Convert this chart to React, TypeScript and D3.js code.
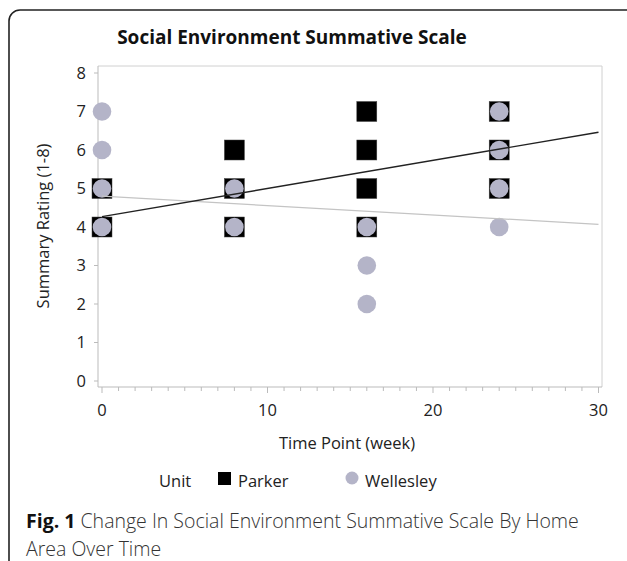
import React from "react";
import * as d3 from "d3";

const parkerX = [0, 0, 8, 8, 8, 16, 16, 16, 16, 24, 24, 24];
const parkerY = [4, 5, 4, 5, 6, 4, 5, 6, 7, 5, 6, 7];
const wellesleyX = [0, 0, 0, 0, 8, 8, 16, 16, 16, 24, 24, 24, 24];
const wellesleyY = [4, 5, 6, 7, 4, 5, 2, 3, 4, 4, 5, 6, 7];
const parkerFitX = [0, 30];
const parkerFitY = [4.27, 6.46];
const wellesleyFitX = [0, 30];
const wellesleyFitY = [4.8, 4.07];
const xTicks = [0, 10, 20, 30];
const xMinorTicks = d3.range(0, 31);
const yTicks = [0, 1, 2, 3, 4, 5, 6, 7, 8];

const FONT = "'Open Sans', 'Noto Sans', sans-serif";
const GRAY = "#b4b4c8";

export default function App() {
  const W = 627, H = 561;
  const x = d3.scaleLinear().domain([0, 30]).range([102, 598.5]);
  const y = d3.scaleLinear().domain([0, 8]).range([381, 73]);
  const frameL = 98, frameR = 602, frameT = 66, frameB = 387;
  const line = d3.line<[number, number]>().x(d => x(d[0])).y(d => y(d[1]));
  const pFit: [number, number][] = parkerFitX.map((v, i) => [v, parkerFitY[i]]);
  const wFit: [number, number][] = wellesleyFitX.map((v, i) => [v, wellesleyFitY[i]]);
  const sq = 20;
  const fs = 16.5;
  return (
    <svg width={W} height={H} style={{ position: "absolute", left: 0, top: 0, background: "#fff" }} fontFamily={FONT}>
      <rect x={9} y={10} width={W + 20} height={H + 20} rx={11} fill="none" stroke="#222" strokeWidth={1.6} />
      <text x={292} y={44} textAnchor="middle" fontSize={19} fontWeight="bold" fill="#111">Social Environment Summative Scale</text>
      {/* frame */}
      <line x1={frameL} x2={frameR} y1={frameT} y2={frameT} stroke="#d0d0d0" />
      <line x1={frameR} x2={frameR} y1={frameT} y2={frameB} stroke="#d0d0d0" />
      <line x1={frameL} x2={frameL} y1={frameT} y2={frameB} stroke="#bbb" />
      <line x1={frameL} x2={frameR} y1={frameB} y2={frameB} stroke="#bbb" />
      {yTicks.map(t => (
        <g key={"y" + t}>
          <line x1={frameL - 4} x2={frameL} y1={y(t)} y2={y(t)} stroke="#bbb" />
          <text x={86} y={y(t)} dy="0.35em" textAnchor="end" fontSize={fs} fill="#222">{t}</text>
        </g>
      ))}
      {xMinorTicks.map(t => (
        <line key={"m" + t} x1={x(t)} x2={x(t)} y1={frameB} y2={frameB + (t % 10 === 0 ? 6 : 4)} stroke="#bbb" />
      ))}
      {xTicks.map(t => (
        <text key={"x" + t} x={x(t)} y={416} textAnchor="middle" fontSize={fs} fill="#222">{t}</text>
      ))}
      <text x={347} y={449} textAnchor="middle" fontSize={fs} fill="#222">Time Point (week)</text>
      <text transform={`translate(49,226) rotate(-90)`} textAnchor="middle" fontSize={fs} fill="#222">Summary Rating (1-8)</text>
      {/* points */}
      {parkerX.map((v, i) => (
        <rect key={"p" + i} x={x(v) - sq / 2} y={y(parkerY[i]) - sq / 2} width={sq} height={sq} fill="#000" stroke="#444" strokeWidth={0.5} />
      ))}
      {wellesleyX.map((v, i) => (
        <circle key={"w" + i} cx={x(v)} cy={y(wellesleyY[i])} r={9.3} fill={GRAY} />
      ))}
      <path d={line(wFit) || ""} stroke="#c4c4c4" strokeWidth={1.3} fill="none" />
      <path d={line(pFit) || ""} stroke="#222" strokeWidth={1.4} fill="none" />
      {/* legend */}
      <text x={159} y={487} fontSize={fs} fill="#222">Unit</text>
      <rect x={218} y={472} width={13} height={13} fill="#000" />
      <text x={238} y={487} fontSize={fs} fill="#222">Parker</text>
      <circle cx={352} cy={478} r={6.5} fill={GRAY} />
      <text x={365} y={487} fontSize={fs} fill="#222">Wellesley</text>
      {/* caption */}
      <text x={26} y={528} fontSize={19.5} fill="#333" fontWeight={300}>
        <tspan fontWeight="bold" fill="#111">Fig. 1</tspan> Change In Social Environment Summative Scale By Home
      </text>
      <text x={26} y={556} fontSize={19.5} fill="#333" fontWeight={300}>Area Over Time</text>
    </svg>
  );
}
